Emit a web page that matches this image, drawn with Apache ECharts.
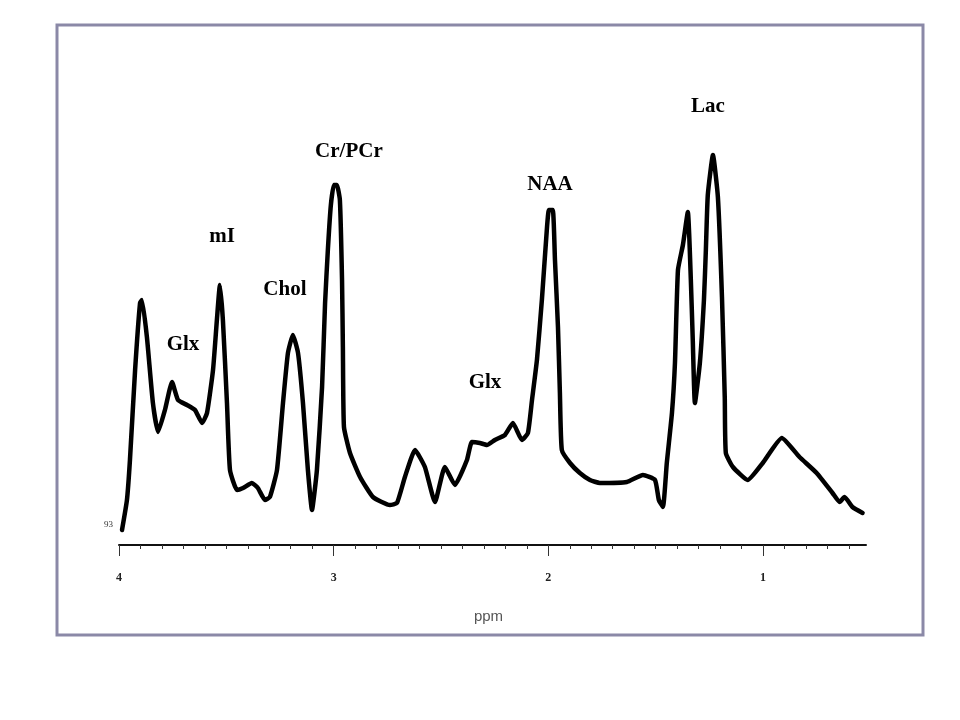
<!DOCTYPE html>
<html>
<head>
<meta charset="utf-8">
<script src="https://cdn.jsdelivr.net/npm/echarts@6/dist/echarts.min.js"></script>
<style>html,body{margin:0;padding:0;background:#fff;}#c{width:960px;height:720px;}</style>
</head>
<body>
<div id="c"></div>
<script>
// chemical shift (ppm) of each traced point of the spectrum
var ppm = [3.986,3.963,3.949,3.925,3.902,3.893,3.870,3.842,3.818,3.786,3.753,3.725,3.683,3.646,3.613,3.590,3.562,3.544,3.530,3.516,3.497,3.483,3.450,3.422,3.381,3.353,3.320,3.297,3.264,3.236,3.213,3.190,3.166,3.143,3.120,3.101,3.078,3.054,3.040,3.027,3.013,2.999,2.985,2.971,2.961,2.957,2.952,2.924,2.877,2.817,2.738,2.705,2.668,2.621,2.575,2.528,2.482,2.435,2.379,2.356,2.319,2.286,2.249,2.202,2.165,2.123,2.095,2.076,2.053,2.030,2.006,1.997,1.979,1.969,1.955,1.946,1.937,1.899,1.853,1.806,1.760,1.634,1.559,1.503,1.485,1.466,1.448,1.424,1.410,1.396,1.373,1.350,1.336,1.327,1.317,1.294,1.275,1.266,1.257,1.233,1.210,1.191,1.178,1.173,1.140,1.071,1.001,0.912,0.830,0.750,0.676,0.643,0.620,0.583,0.536];
// signal intensity (arbitrary units) at each point
var intensity = [15,45,85,175,242,245,208,142,113,135,163,145,140,135,122,132,175,225,260,225,142,75,55,57,62,57,45,48,75,142,192,210,192,142,75,35,75,158,242,295,340,360,360,345,265,198,118,92,68,48,40,42,68,95,78,43,78,60,85,103,102,100,105,110,122,105,112,145,185,245,318,335,335,285,218,152,95,82,72,65,62,63,70,65,45,38,82,132,182,275,300,333,265,205,142,182,245,295,350,390,348,248,148,92,78,65,82,107,88,72,52,43,48,38,32];
// peak annotations
var peakNames = ['Glx','mI','Chol','Cr/PCr','Glx','NAA','Lac'];
var peakLabelPpm = [3.702,3.520,3.227,2.929,2.295,1.992,1.256];
var peakLabelHeight = [200,308,255,393,162,360,438];
// axis ticks
var majorTicks = [1,2,3,4];
var minorTicks = [0.6,0.7,0.8,0.9,1.0,1.1,1.2,1.3,1.4,1.5,1.6,1.7,1.8,1.9,2.0,2.1,2.2,2.3,2.4,2.5,2.6,2.7,2.8,2.9,3.0,3.1,3.2,3.3,3.4,3.5,3.6,3.7,3.8,3.9,4.0];

var lineData = ppm.map(function(p,i){return [p,intensity[i]];});
var labelData = peakNames.map(function(n,i){return {value:[peakLabelPpm[i],peakLabelHeight[i]], name:n};});

var chart = echarts.init(document.getElementById('c'), null, {renderer:'canvas'});
var axMin = 0.52, axMax = 4;
chart.setOption({
  backgroundColor:'#ffffff',
  animation:false,
  grid:{left:119, right:94, top:65, bottom:175},
  xAxis:[{
    type:'value', inverse:true, min:axMin, max:axMax,
    axisLine:{show:true, lineStyle:{color:'#111', width:2}},
    axisTick:{show:true, inside:false, length:4, customValues:minorTicks, lineStyle:{color:'#333', width:1}},
    axisLabel:{show:false},
    splitLine:{show:false}
  },{
    type:'value', inverse:true, min:axMin, max:axMax, position:'bottom', offset:0,
    axisLine:{show:false},
    axisTick:{show:true, inside:false, length:11, customValues:majorTicks, lineStyle:{color:'#333', width:1}},
    axisLabel:{show:true, customValues:majorTicks, margin:27, fontSize:12, fontWeight:'bold', color:'#222', fontFamily:'Liberation Serif'},
    splitLine:{show:false},
    name:'ppm', nameLocation:'middle', nameGap:64,
    nameTextStyle:{fontSize:15, color:'#555', fontFamily:'Liberation Sans', padding:[0,8,0,0]}
  }],
  yAxis:{type:'value', min:0, max:480, show:false, splitLine:{show:false}},
  graphic:[
    {type:'rect', shape:{x:57, y:25, width:866, height:610}, style:{fill:'none', stroke:'#8b89a7', lineWidth:3}, z:-1},
    {type:'text', x:104, y:520, style:{text:'93', fontSize:9, fill:'#333', fontFamily:'Liberation Serif'}}
  ],
  series:[{
    type:'line', xAxisIndex:0, data:lineData, showSymbol:false, smooth:0.15,
    lineStyle:{color:'#000', width:4.5, join:'round', cap:'round'}
  },{
    type:'scatter', xAxisIndex:0, data:labelData, symbolSize:0, silent:true,
    itemStyle:{opacity:1, color:'#000'},
    label:{show:true, position:'inside', formatter:'{b}', fontSize:21, fontWeight:'bold', color:'#000', opacity:1, fontFamily:'Liberation Serif'}
  }]
});
</script>
</body>
</html>
